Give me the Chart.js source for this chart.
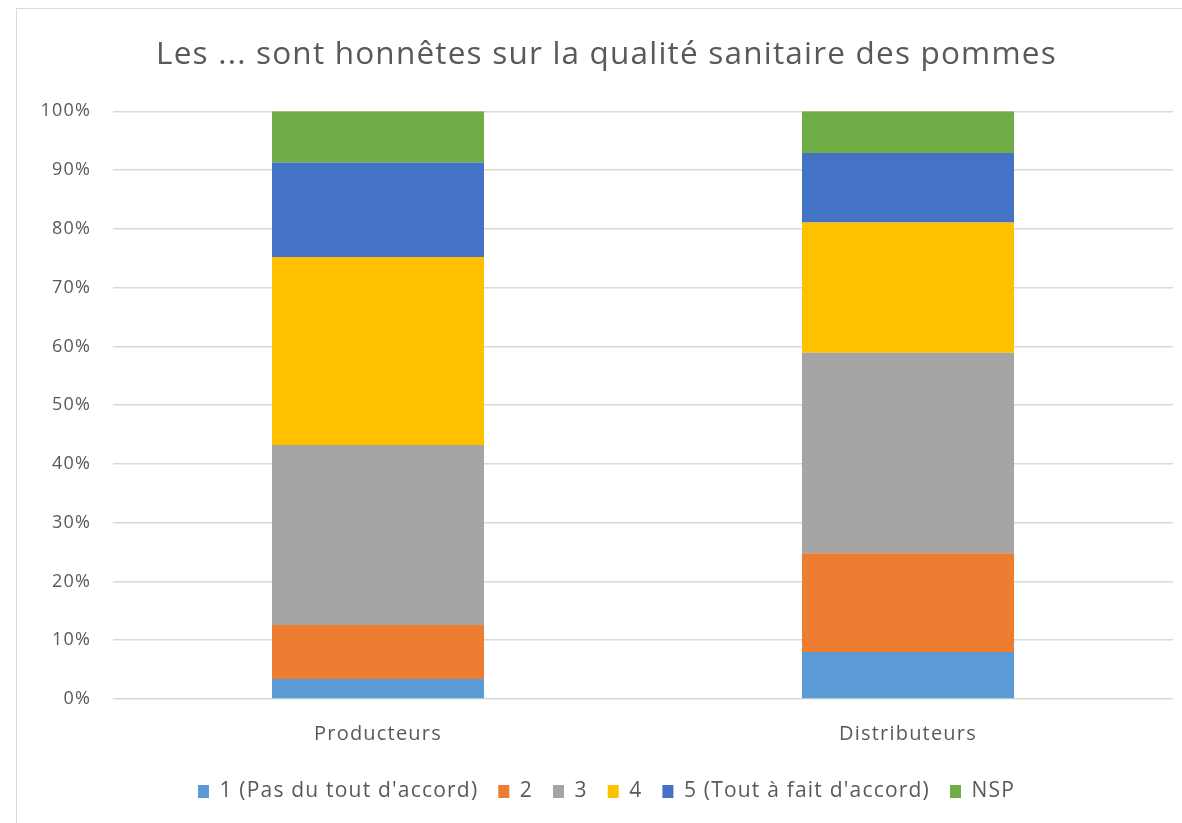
<!DOCTYPE html>
<html>
<head>
<meta charset="utf-8">
<script src="https://cdn.jsdelivr.net/npm/chart.js@4.4.1/dist/chart.umd.min.js"></script>
<style>
  body { margin: 0; background: #fff; overflow: hidden; }
  #frame { position: absolute; left: 16px; top: 8px; width: 1300px; height: 1000px; border: 1px solid #d9d9d9; }
  #wrap { position: absolute; left: 0; top: 0; width: 1182px; height: 823px; }
</style>
</head>
<body>
<div id="frame"></div>
<div id="wrap"><canvas id="pommesChart" width="1182" height="823"></canvas></div>
<script>
// categories and answers (share of respondents, %)
const categories = ['Producteurs', 'Distributeurs'];
const seriesNames = ['1 (Pas du tout d\'accord)', '2', '3', '4', '5 (Tout à fait d\'accord)', 'NSP'];
const rep1 = [3.4, 8.0];
const rep2 = [9.2, 16.8];
const rep3 = [30.6, 34.1];
const rep4 = [32.0, 22.2];
const rep5 = [16.1, 11.8];
const nsp = [8.7, 7.1];
const yTicks = [0, 10, 20, 30, 40, 50, 60, 70, 80, 90, 100];

const colors = ['#5B9BD5', '#ED7D31', '#A5A5A5', '#FFC000', '#4472C4', '#70AD47'];
const seriesValues = [rep1, rep2, rep3, rep4, rep5, nsp];

// Excel text looks a bit spread out, so widen the letters a little
const spacing = {
    id: 'spacing',
    beforeLayout: function(chart) { chart.ctx.letterSpacing = '1.2px'; },
    beforeDraw: function(chart) { chart.ctx.letterSpacing = '1.2px'; }
};

document.addEventListener('DOMContentLoaded', function() {
    const ctx = document.getElementById('pommesChart').getContext('2d');
    const font = "'Open Sans', 'Noto Sans', sans-serif";

    new Chart(ctx, {
        type: 'bar',
        data: {
            labels: categories,
            datasets: seriesNames.map(function(name, i) {
                return {
                    label: name,
                    data: seriesValues[i],
                    backgroundColor: colors[i],
                    borderWidth: 0,
                    categoryPercentage: 1,
                    barPercentage: 0.4
                };
            })
        },
        plugins: [spacing],
        options: {
            responsive: false,
            animation: false,
            layout: { padding: { left: 40, right: 9, top: 0, bottom: 11 } },
            plugins: {
                title: {
                    display: true,
                    text: 'Les ... sont honnêtes sur la qualité sanitaire des pommes',
                    color: '#595959',
                    font: { family: font, size: 31.5, weight: '400' },
                    padding: { top: 36, bottom: 37.5 }
                },
                legend: {
                    position: 'bottom',
                    labels: {
                        color: '#595959',
                        font: { family: font, size: 21 },
                        boxWidth: 11,
                        boxHeight: 13,
                        padding: 20
                    }
                },
                tooltip: { enabled: false }
            },
            scales: {
                x: {
                    stacked: true,
                    grid: { display: false },
                    border: { display: false },
                    ticks: {
                        color: '#595959',
                        font: { family: font, size: 20 },
                        padding: 15
                    }
                },
                y: {
                    stacked: true,
                    min: 0,
                    max: 100,
                    afterFit: function(scale) { scale.width = 73; },
                    afterBuildTicks: function(scale) {
                        scale.ticks = yTicks.map(function(v) { return { value: v }; });
                    },
                    grid: { color: '#d9d9d9', lineWidth: 1.5, drawTicks: false },
                    border: { display: false },
                    ticks: {
                        color: '#595959',
                        font: { family: font, size: 18 },
                        padding: 22,
                        callback: function(v) { return v + '%'; }
                    }
                }
            }
        }
    });
});
</script>
</body>
</html>
